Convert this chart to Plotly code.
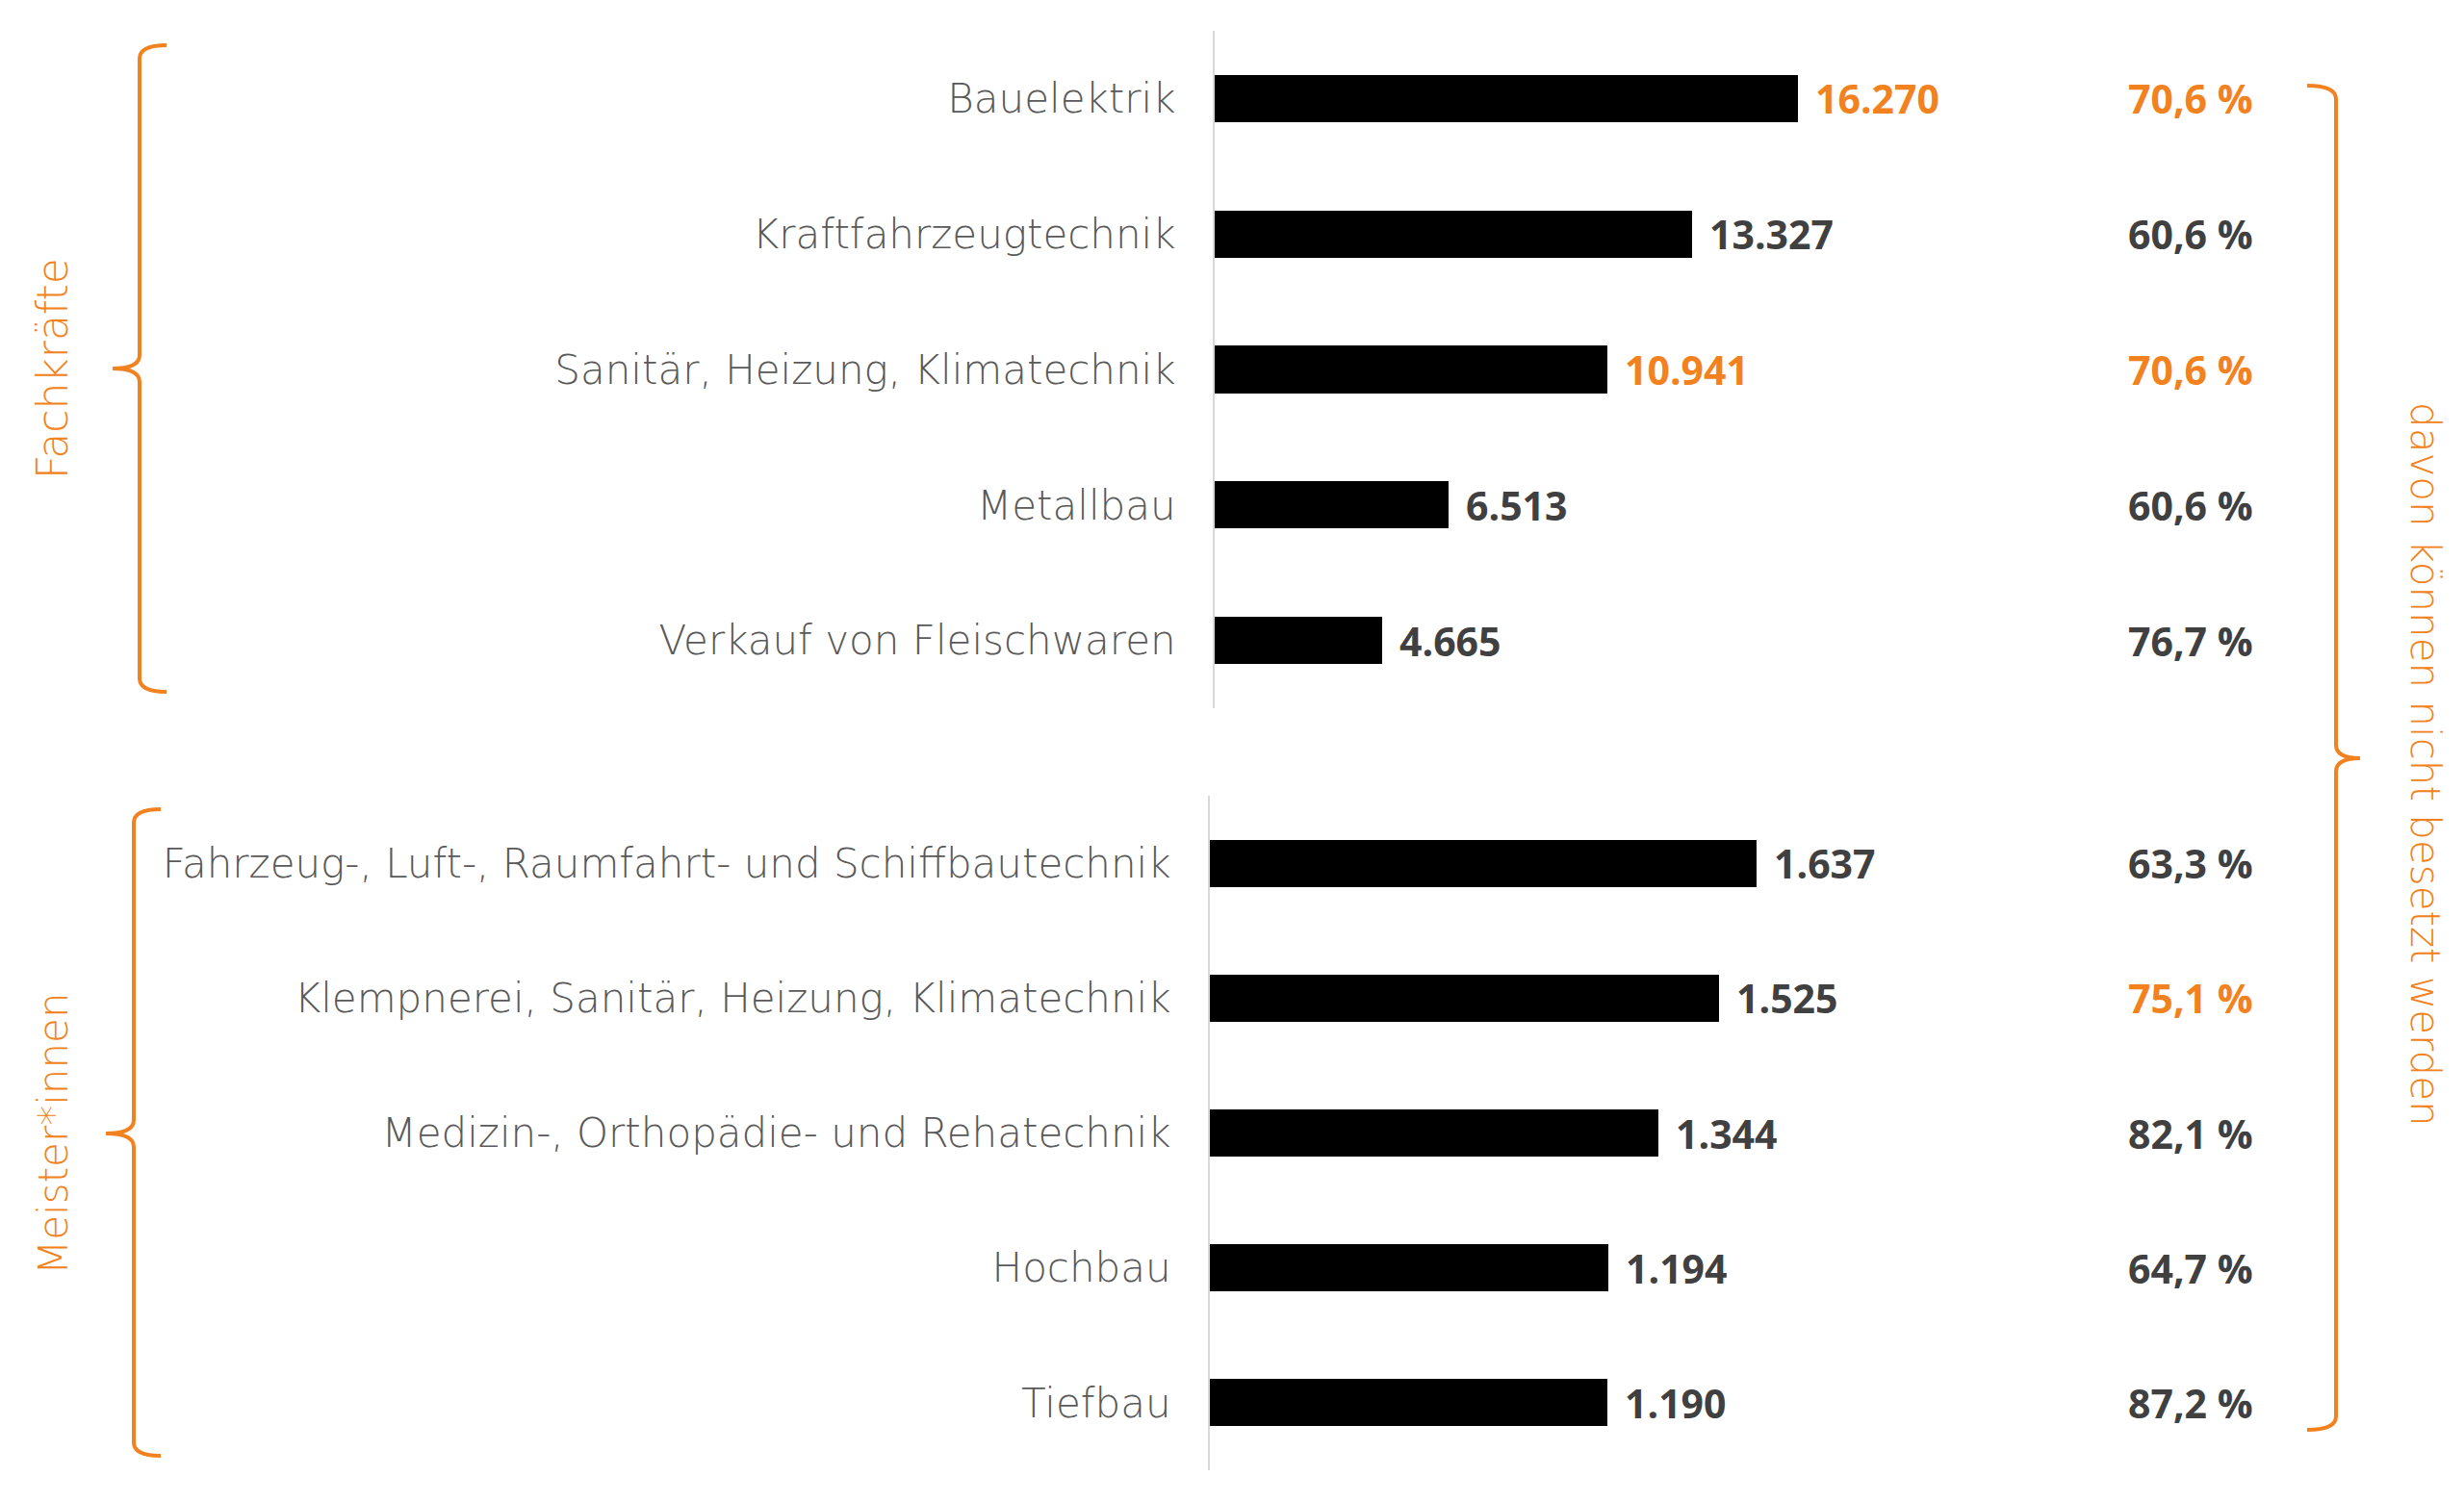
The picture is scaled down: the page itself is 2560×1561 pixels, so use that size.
import plotly.graph_objects as go

# Fachkräfte (upper block)
fach_labels = ["Bauelektrik", "Kraftfahrzeugtechnik", "Sanitär, Heizung, Klimatechnik",
               "Metallbau", "Verkauf von Fleischwaren"]
fach_values = [16270, 13327, 10941, 6513, 4665]
fach_percent = [70.6, 60.6, 70.6, 60.6, 76.7]
fach_value_hl = [True, False, True, False, False]
fach_percent_hl = [True, False, True, False, False]

# Meister*innen (lower block)
meister_labels = ["Fahrzeug-, Luft-, Raumfahrt- und Schiffbautechnik",
                  "Klempnerei, Sanitär, Heizung, Klimatechnik",
                  "Medizin-, Orthopädie- und Rehatechnik", "Hochbau", "Tiefbau"]
meister_values = [1637, 1525, 1344, 1194, 1190]
meister_percent = [63.3, 75.1, 82.1, 64.7, 87.2]
meister_value_hl = [False, False, False, False, False]
meister_percent_hl = [False, True, False, False, False]

ORANGE = "#F28220"
DARK = "#404040"
LABEL = "#595959"
FONT = "Open Sans"
LIGHT_FONT = "DejaVu Sans"
W, H = 2560, 1561
OFF = 8  # page body margin


def de_num(v):
    return f"{v:,}".replace(",", ".")


def de_pct(p):
    return f"{p:.1f} %".replace(".", ",")


def px(x):
    return (x - OFF) / W


def py(y):
    return 1 - (y - OFF) / H


fig = go.Figure()

blocks = [
    ("x", "y", fach_labels, fach_values, fach_percent, fach_value_hl, fach_percent_hl),
    ("x2", "y2", meister_labels, meister_values, meister_percent, meister_value_hl, meister_percent_hl),
]

annotations = []
for xa, ya, labels, values, pcts, vhl, phl in blocks:
    fig.add_trace(go.Bar(
        x=values, y=labels, orientation="h", xaxis=xa, yaxis=ya,
        marker=dict(color="black", line=dict(width=0)),
        width=0.35, showlegend=False, hoverinfo="skip",
    ))
    for lab, v, p, hv, hp in zip(labels, values, pcts, vhl, phl):
        annotations.append(dict(
            x=v, y=lab, xref=xa, yref=ya, text=de_num(v), showarrow=False,
            xanchor="left", xshift=16,
            font=dict(family=FONT, size=41, weight=700, color=ORANGE if hv else DARK),
        ))
        annotations.append(dict(
            x=px(2276), y=lab, xref="paper", yref=ya, text=de_pct(p), showarrow=False,
            xanchor="center",
            font=dict(family=FONT, size=41, weight=700, color=ORANGE if hp else DARK),
        ))

# side captions
side_font = dict(family=LIGHT_FONT, size=42, weight=200, color=ORANGE)
annotations += [
    dict(x=px(55), y=py(383), xref="paper", yref="paper", text="Fachkräfte",
         textangle=-90, showarrow=False, xanchor="center", yanchor="middle",
         font=dict(side_font, size=44)),
    dict(x=px(55), y=py(1178), xref="paper", yref="paper", text="Meister*innen",
         textangle=-90, showarrow=False, xanchor="center", yanchor="middle", font=side_font),
    dict(x=px(2519), y=py(794), xref="paper", yref="paper", text="davon können nicht besetzt werden",
         textangle=90, showarrow=False, xanchor="center", yanchor="middle", font=side_font),
]


def brace(xline, xhook, xtip, ytop, ybot, ymid, r=14):
    # curly brace as svg path in pixel coords, converted to paper
    pts = (
        f"M {px(xhook)},{py(ytop)} "
        f"Q {px(xline)},{py(ytop)} {px(xline)},{py(ytop + r)} "
        f"L {px(xline)},{py(ymid - r)} "
        f"Q {px(xline)},{py(ymid)} {px(xtip)},{py(ymid)} "
        f"Q {px(xline)},{py(ymid)} {px(xline)},{py(ymid + r)} "
        f"L {px(xline)},{py(ybot - r)} "
        f"Q {px(xline)},{py(ybot)} {px(xhook)},{py(ybot)}"
    )
    return dict(type="path", path=pts, xref="paper", yref="paper",
                line=dict(color=ORANGE, width=4))


shapes = [
    brace(145, 173, 117, 47, 719, 383),
    brace(139, 167, 110, 841, 1513, 1178),
    brace(2427, 2397, 2452, 89, 1486, 788),
]

axis_common = dict(type="category", showgrid=False, zeroline=False, showline=True,
                   linecolor="#d9d9d9", linewidth=2, ticks="", ticklabelstandoff=30,
                   tickfont=dict(family=LIGHT_FONT, size=42, weight=200, color=LABEL),
                   range=[4.5, -0.5])

fig.update_layout(
    width=W, height=H,
    margin=dict(l=0, r=0, t=0, b=0),
    paper_bgcolor="white", plot_bgcolor="white",
    bargap=0,
    xaxis=dict(domain=[px(1262), px(2400)], range=[0, (2400 - 1262) / 0.03725],
               visible=False, anchor="y"),
    yaxis=dict(domain=[py(736), py(32)], anchor="x", **axis_common),
    xaxis2=dict(domain=[px(1257), px(2400)], range=[0, (2400 - 1257) / 0.347],
                visible=False, anchor="y2"),
    yaxis2=dict(domain=[py(1528), py(827)], anchor="x2", **axis_common),
    annotations=annotations,
    shapes=shapes,
)

fig.write_html("out.html")
